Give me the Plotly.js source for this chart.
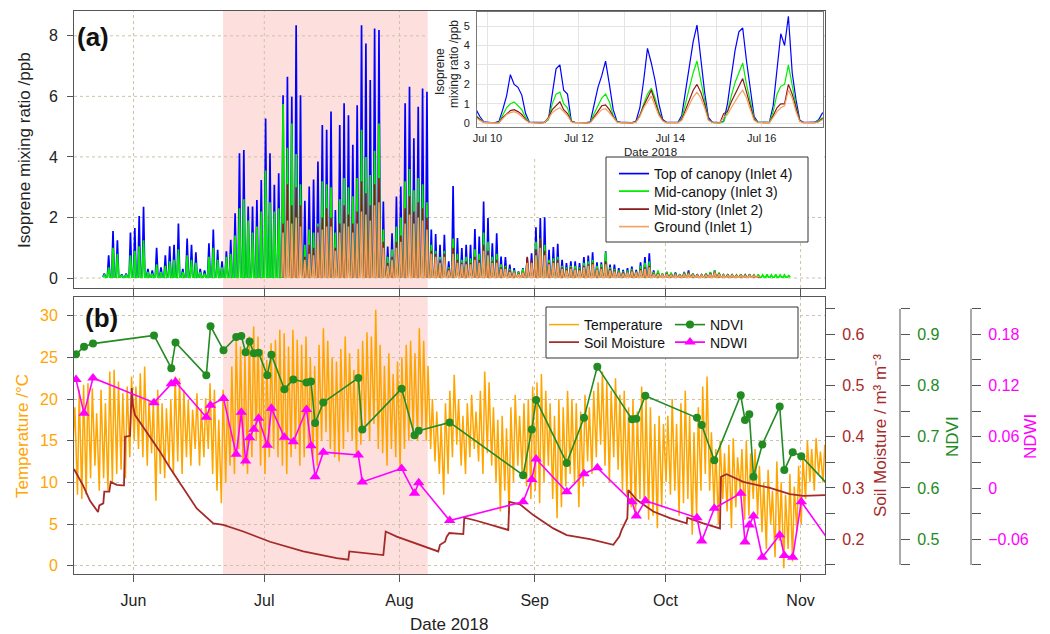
<!DOCTYPE html>
<html><head><meta charset="utf-8">
<script src="https://cdn.plot.ly/plotly-3.0.1.min.js"></script>
<style>html,body{margin:0;padding:0;background:#fff;} #chart{width:1050px;height:634px;}</style>
</head><body><div id="chart"></div>
<script>
// ---------------- DATA ----------------
// Day-of-year (2018, Jan 1 = 1) ranges
const X_RANGE_DOY = [138.35, 310.6];
const HEATWAVE_DOY = [172.53, 219.48];
const monthTicks = ['2018-06-01','2018-07-01','2018-08-01','2018-09-01','2018-10-01','2018-11-01'];
const monthLabels = ['Jun','Jul','Aug','Sep','Oct','Nov'];

// Panel (a): daily peak isoprene mixing ratio (ppb)
const NIGHT_LEVEL = 0.03;
const TOP_FIRST_DOY = 145;
const topCanopyPeak = [0.15,0.75,1.55,1.25,0.12,0.15,1.5,1.65,2.05,2.35,
 0.3,0.25,1.0,0.35,0.75,1.05,1.1,1.8,0.3,1.3,
 1.1,0.85,0.3,0.25,1.15,1.6,0.93,0.55,0.88,1.26,
 2.14,4.12,4.23,2.36,2.36,2.58,3.24,5.27,4.12,3.08,
 3.46,6.04,6.65,5.99,8.35,6.04,2.55,3.02,3.25,3.85,
 5.05,4.9,5.5,2.25,5.05,5.77,5.38,4.4,5.71,8.35,
 7.75,6.54,8.24,8.19,2.53,1.04,1.48,2.69,3.02,5.77,
 6.32,4.62,5.66,6.26,6.15,1.6,1.45,1.1,1.43,0.55,
 3.04,1.32,0.99,1.1,1.1,1.62,1.37,2.53,1.98,1.15,
 1.48,0.71,0.69,0.44,0.33,0.22,0.33,0.66,0.82,1.68,
 1.98,2.01,0.93,1.02,1.13,0.6,0.49,0.55,0.55,0.49,
 0.69,0.74,0.85,0.52,0.52,0.88,0.44,0.44,0.33,0.27,
 0.33,0.38,0.27,0.52,0.69,0.82,0.25,0.22,0.14,0.2,
 0.15,0.18,0.12,0.2,0.25,0.15,0.12,0.1,0.15,0.18,
 0.25,0.15,0.1,0.12,0.1,0.08,0.12,0.1,0.12,0.08,
 0.06];
const MID_FIRST_DOY = 145;
const midCanopyPeak = [0.1,0.35,1.0,0.8,0.08,0.1,0.75,0.9,1.05,1.25,
 0.2,0.15,0.45,0.2,0.4,0.55,0.6,0.95,0.2,0.75,
 0.6,0.5,0.2,0.15,0.7,1.0,0.6,0.35,0.7,0.8,
 1.4,2.3,2.6,1.9,1.5,1.7,2.2,3.55,2.5,2.2,
 2.3,5.75,4.3,5.1,4.1,3.1,1.1,1.6,1.5,1.8,
 3.2,3.1,3.0,1.5,2.6,3.3,3.0,2.7,3.3,4.9,
 4.0,3.4,4.2,5.1,1.6,0.7,0.95,1.7,2.0,3.2,
 3.6,2.9,3.3,3.1,2.5,1.1,0.9,0.7,0.9,0.35,
 1.3,0.8,0.6,0.7,0.65,0.95,0.8,1.5,1.2,0.7,
 0.8,0.45,0.4,0.3,0.25,0.2,0.3,0.45,0.5,1.2,
 1.3,1.1,0.6,0.65,0.7,0.4,0.35,0.4,0.4,0.35,
 0.5,0.55,0.6,0.4,0.45,0.85,0.35,0.3,0.25,0.22,
 0.25,0.3,0.22,0.4,0.5,0.55,0.2,0.25,0.15,0.2,
 0.18,0.15,0.12,0.18,0.2,0.15,0.1,0.12,0.15,0.2,
 0.25,0.18,0.12,0.1,0.12,0.1,0.12,0.1,0.12,0.1,
 0.12,0.1,0.12,0.1,0.12,0.1,0.1,0.08];
const LOW_FIRST_DOY = 186;
const midStoryPeak = [1.8,3.1,2.4,3.0,2.4,0.7,1.1,1.0,1.7,
 2.0,2.3,2.0,1.0,1.8,2.4,2.1,1.8,2.2,3.2,
 2.8,2.4,3.1,3.3,1.2,0.5,0.7,1.2,1.4,2.3,
 2.7,2.2,2.5,2.3,2.0,0.9,0.8,0.6,0.8,0.3,
 1.0,0.6,0.5,0.55,0.5,0.7,0.6,1.1,0.9,0.55,
 0.6,0.35,0.35,0.25,0.2,0.15,0.2,0.7,0.6,0.95,
 1.3,0.9,0.5,0.55,0.6,0.35,0.3,0.35,0.3,0.3,
 0.4,0.45,0.5,0.3,0.35,0.55,0.3,0.25,0.2,0.18,
 0.2,0.25,0.2,0.3,0.35,0.4,0.15,0.15,0.1,0.15,
 0.12,0.12,0.1,0.15,0.18,0.12,0.1,0.1,0.12,0.15,
 0.2,0.15,0.1,0.1,0.1,0.08,0.1,0.08,0.1,0.08,
 0.06];
const groundPeak = [1.5,1.9,1.8,2.0,1.7,0.6,0.8,0.75,1.5,
 1.6,1.7,1.7,0.9,1.5,1.8,1.7,1.5,1.8,2.2,
 2.1,1.9,2.4,2.5,1.0,0.4,0.6,1.0,1.2,1.8,
 2.1,1.8,2.0,1.9,1.6,0.8,0.7,0.5,0.7,0.25,
 0.8,0.5,0.45,0.45,0.45,0.6,0.5,0.9,0.75,0.5,
 0.5,0.3,0.3,0.2,0.18,0.13,0.18,0.5,0.5,0.75,
 1.0,0.75,0.45,0.5,0.5,0.3,0.25,0.3,0.28,0.25,
 0.35,0.4,0.45,0.28,0.3,0.45,0.25,0.22,0.18,0.15,
 0.18,0.22,0.18,0.25,0.3,0.35,0.13,0.13,0.1,0.13,
 0.1,0.1,0.09,0.13,0.15,0.1,0.09,0.09,0.1,0.13,
 0.18,0.13,0.09,0.09,0.09,0.07,0.09,0.07,0.09,0.07,
 0.06];

// Inset: 2-hourly readings from 2018-07-09 18:00
const INSET_START = '2018-07-09 18:00';
const INSET_STEP_HOURS = 2;
const INSET_RANGE = ['2018-07-09 18:29', '2018-07-17 08:10'];
const insetTickVals = ['2018-07-10','2018-07-12','2018-07-14','2018-07-16'];
const insetTickText = ['Jul 10','Jul 12','Jul 14','Jul 16'];
const insetMinorDays = ['2018-07-11','2018-07-13','2018-07-15','2018-07-17'];
const insetTop = [0.70,0.35,0.08,
 0.05,0.04,0.04,0.10,0.70,1.40,2.50,2.00,1.85,1.45,0.50,0.06,
 0.05,0.04,0.04,0.05,0.20,1.60,2.80,3.00,1.70,1.50,0.12,0.05,
 0.05,0.04,0.04,0.08,1.00,1.85,2.45,3.20,2.00,0.70,0.10,0.05,
 0.05,0.04,0.04,0.12,0.80,2.20,3.85,3.10,2.20,1.00,0.20,0.05,
 0.05,0.04,0.05,0.40,1.60,2.90,4.20,5.05,3.40,1.60,0.30,0.06,
 0.05,0.04,0.10,1.00,2.40,3.75,4.70,4.90,3.20,1.80,0.35,0.06,
 0.05,0.04,0.05,0.90,2.60,4.60,4.00,5.50,2.60,1.20,0.15,0.05,
 0.05,0.04,0.06,0.20,0.55];
const insetMid = [0.40,0.20,0.05,
 0.04,0.03,0.03,0.05,0.45,0.80,1.00,1.10,0.90,0.70,0.30,0.05,
 0.04,0.03,0.03,0.05,0.20,1.00,1.50,1.60,1.00,0.80,0.10,0.04,
 0.04,0.03,0.03,0.05,0.50,0.90,1.30,1.50,1.10,0.40,0.08,0.04,
 0.04,0.03,0.03,0.08,0.40,1.00,1.50,1.80,1.30,0.60,0.15,0.04,
 0.04,0.03,0.04,0.25,1.00,1.90,2.60,3.20,2.20,1.40,0.20,0.05,
 0.04,0.03,0.08,0.60,1.40,2.10,2.60,3.10,2.00,1.20,0.25,0.05,
 0.04,0.03,0.04,0.60,1.50,1.90,2.00,3.00,2.00,0.90,0.12,0.04,
 0.04,0.03,0.04,0.15,0.30];
const insetStory = [0.35,0.20,0.05,
 0.03,0.02,0.02,0.03,0.30,0.50,0.65,0.70,0.60,0.45,0.20,0.04,
 0.03,0.02,0.02,0.05,0.30,0.70,0.90,1.10,0.70,0.50,0.10,0.03,
 0.03,0.02,0.02,0.05,0.35,0.60,0.90,0.95,0.70,0.35,0.08,0.03,
 0.03,0.02,0.02,0.08,0.40,0.90,1.30,1.70,1.10,0.50,0.15,0.03,
 0.03,0.02,0.03,0.20,0.70,1.20,1.70,2.00,1.60,1.00,0.20,0.04,
 0.03,0.02,0.50,0.60,1.10,1.50,1.90,2.30,1.60,0.90,0.20,0.04,
 0.03,0.02,0.03,0.40,0.80,1.00,1.00,2.00,1.50,0.80,0.12,0.03,
 0.03,0.02,0.03,0.10,0.25];
const insetGround = [0.30,0.15,0.05,
 0.03,0.02,0.02,0.03,0.25,0.45,0.55,0.60,0.50,0.35,0.15,0.04,
 0.03,0.02,0.02,0.04,0.25,0.55,0.70,0.80,0.60,0.40,0.08,0.03,
 0.03,0.02,0.02,0.04,0.30,0.50,0.70,0.75,0.55,0.30,0.06,0.03,
 0.03,0.02,0.02,0.06,0.35,0.80,1.10,1.40,0.90,0.40,0.12,0.03,
 0.03,0.02,0.03,0.15,0.55,0.95,1.35,1.60,1.30,0.80,0.15,0.04,
 0.03,0.02,0.30,0.45,0.80,1.15,1.45,1.70,1.30,0.70,0.15,0.04,
 0.03,0.02,0.03,0.30,0.60,0.80,0.90,1.70,1.30,0.60,0.10,0.03,
 0.03,0.02,0.03,0.08,0.20];

// Panel (b): daily temperature minima / maxima (degC), from DOY 138
const TEMP_FIRST_DOY = 138;
const tempMin = [15,8.5,8.0,8.5,10.5,12,9,10.5,9,10,
 11,11.5,10.5,13,15,14,13,12,13.5,7.8,
 11,10.5,12,11,12.5,11,13,12,14,12,
 13,14,11,9,7.5,10,12,11,14,12,
 11,13,15,12,11,13,14,13,12,11,
 13,14,12,13,14.5,13,12,15,16,14,
 13,12.5,14,16,15,13,14.5,16,15,17,
 14,13.5,12,14,13,11.7,14,15,16,15,
 16.5,15,14,12.5,11,8.5,11,13,14.5,12,
 11,13,14,12.5,11,13.5,12,10,6.5,9,
 6.2,10,12,11,9.5,8,9,7.5,10,12,
 8,5.7,7,9.5,11,10,7,9.5,12.5,11,
 13,14.5,12,10,13,11.5,9,8.5,7,6,
 8,7.5,5.5,6,4.5,7,10,8.5,9,6,
 7.5,8,3.7,6,9,11,9,7,5,8,
 6.5,4.5,7,9,5.5,6,8,6,4,2,
 5,1,3,-0.3,2,0.5,4,5,8,10,
 9,11,10];
const tempMax = [19,21.1,21.7,21.9,21.3,18.3,21.1,19.5,23.3,23.5,
 22.1,20.7,21.5,22.7,21.5,23.1,23.9,19.9,19.9,21.1,
 19.5,18.9,19.9,22.7,22.5,21.1,19.9,18.7,20.7,18.9,
 20.1,21.9,21.1,17.5,21.1,19.9,23.9,27.1,26.3,25.5,
 27.5,28.7,27.5,25.9,24.7,26.7,27.1,28.3,27.9,26.3,
 28.3,27.1,26.5,27.5,25,24,26.5,28.5,27,25,
 24.5,26,27.5,25.5,23.5,26,27,28,27.5,30.7,
 26.5,24,25.5,23,24.5,25,26.5,27,25.5,28.5,
 27,24,20,18.5,17,19.5,21,22.9,20,18,
 19.5,20.5,18.5,21,23.3,22,19,17.5,18,16.5,
 19,20.5,18,19.5,20,21.5,22,23,21,19.5,
 18,20,19,21,20,19.5,18.5,20.5,19,21,
 22,23.3,22,21,22.5,20.5,21,19,20,18.5,
 21.5,20,19,17,18,17,18,20,17,19.5,
 21,18,16,19,21.5,22.7,16,14,15,13.5,
 14.5,15.3,13,14,15,13.5,14,12,10,11.5,
 9,12.5,10,8.5,11,9.5,12,13,15,14,
 15.3,13.7,14.5];

// Soil moisture (m3 m-3) vertices
const soilDoy = [138.35,140.42,142.02,143.86,144.16,145.07,145.30,146.45,146.77,148.15,149.36,149.82,150.05,151.2,151.59,151.89,152.34,155.03,158.08,160.37,163.42,166.5,170.3,172.6,177.18,183.3,190.94,198.6,201.27,201.5,209.3,209.84,212.37,221.9,222.3,223.45,223.84,224.43,227.64,227.87,230.72,237.96,238.19,240.65,243.7,248.29,251.36,256.7,262.05,263.42,263.97,265.26,265.49,267.42,271.22,275.05,278.88,279.01,282.68,286.51,286.74,288.05,291.86,297.98,302.56,305.62,310.6];
const soilMoisture = [0.337,0.305,0.275,0.253,0.266,0.270,0.293,0.293,0.312,0.306,0.305,0.305,0.40,0.402,0.495,0.46,0.4425,0.41,0.371,0.339,0.30,0.26,0.231,0.228,0.215,0.195,0.176,0.163,0.160,0.176,0.169,0.215,0.205,0.176,0.189,0.195,0.205,0.212,0.210,0.242,0.236,0.218,0.273,0.268,0.247,0.221,0.208,0.200,0.189,0.205,0.218,0.241,0.296,0.277,0.254,0.241,0.231,0.242,0.231,0.221,0.322,0.327,0.312,0.30,0.288,0.2845,0.286];

// NDVI / NDWI acquisitions
const viDoy = [138.81,140.65,142.71,156.70,160.67,161.63,168.70,169.66,172.64,175.56,176.72,177.71,178.63,179.59,180.67,182.69,183.63,186.61,188.65,191.68,192.71,193.65,195.53,203.56,204.48,213.49,216.45,217.41,224.52,241.36,243.35,244.34,251.36,255.33,258.38,266.34,267.32,269.39,281.24,282.32,285.21,291.27,292.25,293.24,294.2,296.22,300.21,301.27,303.19,305.16,312];
const ndvi = [0.861,0.876,0.882,0.898,0.834,0.884,0.820,0.916,0.869,0.895,0.897,0.865,0.886,0.863,0.864,0.820,0.860,0.793,0.812,0.806,0.808,0.727,0.767,0.815,0.714,0.794,0.703,0.712,0.728,0.625,0.714,0.772,0.649,0.737,0.837,0.734,0.735,0.780,0.737,0.723,0.654,0.781,0.733,0.744,0.622,0.685,0.759,0.635,0.670,0.662,0.600];
const ndwi = [0.127,0.0875,0.129,0.100,0.122,0.1245,0.083,0.097,0.105,0.0395,0.0887,0.0316,0.059,0.069,0.0816,0.050,0.0934,0.0594,0.0543,0.092,0.0496,0.0133,0.042,0.0387,0.0072,0.023,-0.006,0.0062,-0.038,-0.016,0.010,0.034,-0.0043,0.0168,0.0238,-0.016,-0.0328,-0.0148,-0.0348,-0.062,-0.0237,-0.006,-0.063,-0.0433,-0.0328,-0.081,-0.055,-0.079,-0.081,-0.016,-0.065];

// Right-axis tick positions (labelled / unlabelled)
const soilTicks = [0.2,0.3,0.4,0.5,0.6], soilMinor = [0.15,0.25,0.35,0.45,0.55,0.65];
const ndviTicks = [0.5,0.6,0.7,0.8,0.9], ndviMinor = [0.45,0.55,0.65,0.75,0.85,0.95];
const ndwiTicks = [-0.06,0,0.06,0.12,0.18], ndwiMinor = [-0.09,-0.03,0.03,0.09,0.15,0.21];

// ---------------- helpers ----------------
const YEAR_START = Date.UTC(2018, 0, 1);
const DAY_MS = 86400000;
function msDate(ms) { return new Date(ms).toISOString().slice(0, 19).replace('T', ' '); }
function doyDate(doy) { return msDate(YEAR_START + (doy - 1) * DAY_MS); }
function dailySeries(firstDoy, peaks) {
  const x = [], y = [];
  peaks.forEach((p, i) => {
    const d = firstDoy + i;
    x.push(doyDate(d), doyDate(d + 0.3), doyDate(d + 0.6));
    y.push(NIGHT_LEVEL, p, NIGHT_LEVEL);
  });
  return {x, y};
}
function tempSeries() {
  const x = [], y = [];
  tempMin.forEach((lo, i) => {
    const d = TEMP_FIRST_DOY + i;
    x.push(doyDate(d + 0.15), doyDate(d + 0.55));
    y.push(lo, tempMax[i]);
  });
  return {x, y};
}
const insetStartMs = Date.parse(INSET_START.replace(' ', 'T') + ':00Z');
const insetTimes = insetTop.map((_, i) => msDate(insetStartMs + i * INSET_STEP_HOURS * 3600000));

// ---------------- layout geometry (pixels) ----------------
const W = 1050, H = 634;
const fx = p => p / W, fy = p => 1 - p / H;
const FONT = 'Liberation Sans, Arial, Helvetica, sans-serif';
const GRID = '#cdc3a8';
const AXC = '#555555';
const C = {top:'#0000FF', mid:'#00EE00', story:'#8B1A1A', ground:'#F4A05F',
           temp:'#FFA500', soil:'#A52A2A', ndvi:'#228B22', ndwi:'#FF00FF', pink:'#FDE0DE'};

const xr = [doyDate(X_RANGE_DOY[0]), doyDate(X_RANGE_DOY[1])];

const sTop = dailySeries(TOP_FIRST_DOY, topCanopyPeak);
const sMid = dailySeries(MID_FIRST_DOY, midCanopyPeak);
const sStory = dailySeries(LOW_FIRST_DOY, midStoryPeak);
const sGround = dailySeries(LOW_FIRST_DOY, groundPeak);
const sTemp = tempSeries();

const traces = [
  {x:sTop.x, y:sTop.y, xaxis:'x', yaxis:'y', mode:'lines', name:'Top of canopy (Inlet 4)', line:{color:C.top, width:1.7}, legend:'legend'},
  {x:sMid.x, y:sMid.y, xaxis:'x', yaxis:'y', mode:'lines', name:'Mid-canopy (Inlet 3)', line:{color:C.mid, width:1.7}, legend:'legend4'},
  {x:sStory.x, y:sStory.y, xaxis:'x', yaxis:'y', mode:'lines', name:'Mid-story (Inlet 2)', line:{color:C.story, width:1.6}, legend:'legend5'},
  {x:sGround.x, y:sGround.y, xaxis:'x', yaxis:'y', mode:'lines', name:'Ground (Inlet 1)', line:{color:C.ground, width:1.6}, legend:'legend6'},

  {x:sTemp.x, y:sTemp.y, xaxis:'x2', yaxis:'y2', mode:'lines', name:'Temperature', line:{color:C.temp, width:1.5}, legend:'legend2'},
  {x:soilDoy.map(doyDate), y:soilMoisture, xaxis:'x2', yaxis:'y3', mode:'lines', name:'Soil Moisture', line:{color:C.soil, width:1.8}, legend:'legend7'},
  {x:viDoy.map(doyDate), y:ndvi, xaxis:'x2', yaxis:'y4', mode:'lines+markers', name:'NDVI', line:{color:C.ndvi, width:1.6}, marker:{color:C.ndvi, size:8, symbol:'circle'}, legend:'legend3'},
  {x:viDoy.map(doyDate), y:ndwi, xaxis:'x2', yaxis:'y5', mode:'lines+markers', name:'NDWI', line:{color:C.ndwi, width:1.6}, marker:{color:C.ndwi, size:10, symbol:'triangle-up'}, legend:'legend8'},

  {x:insetTimes, y:insetTop, xaxis:'x3', yaxis:'y6', mode:'lines', line:{color:C.top, width:1.2}, showlegend:false},
  {x:insetTimes, y:insetMid, xaxis:'x3', yaxis:'y6', mode:'lines', line:{color:C.mid, width:1.2}, showlegend:false},
  {x:insetTimes, y:insetStory, xaxis:'x3', yaxis:'y6', mode:'lines', line:{color:C.story, width:1.2}, showlegend:false},
  {x:insetTimes, y:insetGround, xaxis:'x3', yaxis:'y6', mode:'lines', line:{color:C.ground, width:1.2}, showlegend:false}
];

const tickFont = {family:FONT, size:16, color:'#222'};
const shapes = [];
// heat-wave shading
shapes.push({type:'rect', layer:'below', xref:'x', yref:'paper', x0:doyDate(HEATWAVE_DOY[0]), x1:doyDate(HEATWAVE_DOY[1]), y0:fy(288), y1:fy(11), fillcolor:C.pink, line:{width:0}});
shapes.push({type:'rect', layer:'below', xref:'x2', yref:'paper', x0:doyDate(HEATWAVE_DOY[0]), x1:doyDate(HEATWAVE_DOY[1]), y0:fy(574), y1:fy(297), fillcolor:C.pink, line:{width:0}});
// panel (a) grid
[0,2,4,6,8].forEach(v => shapes.push({type:'line', layer:'below', xref:'paper', yref:'y', x0:fx(74), x1:fx(825), y0:v, y1:v, line:{color:GRID, width:1, dash:'dot'}}));
monthTicks.forEach(m => shapes.push({type:'line', layer:'below', xref:'x', yref:'paper', x0:m, x1:m, y0:fy(288), y1:fy(11), line:{color:GRID, width:1, dash:'dot'}}));
// inset white background
shapes.push({type:'rect', layer:'below', xref:'paper', yref:'paper', x0:fx(428), x1:fx(824), y0:fy(158), y1:fy(11.5), fillcolor:'#ffffff', line:{width:0}});
// free right axis lines
shapes.push({type:'line', layer:'below', xref:'paper', yref:'y4', x0:fx(900), x1:fx(900), y0:0.45, y1:0.95, line:{color:AXC, width:1}});
shapes.push({type:'line', layer:'below', xref:'paper', yref:'y5', x0:fx(971), x1:fx(971), y0:-0.09, y1:0.21, line:{color:AXC, width:1}});
// legend boxes
shapes.push({type:'rect', layer:'above', xref:'paper', yref:'paper', x0:fx(606), x1:fx(808), y0:fy(242), y1:fy(157), fillcolor:'#ffffff', line:{color:'#333', width:1}});
shapes.push({type:'rect', layer:'above', xref:'paper', yref:'paper', x0:fx(546), x1:fx(798), y0:fy(358), y1:fy(307), fillcolor:'#ffffff', line:{color:'#333', width:1}});

const ann = (text, xpx, ypx, opts) => Object.assign({text, x:fx(xpx), y:fy(ypx), xref:'paper', yref:'paper', showarrow:false, xanchor:'center', yanchor:'middle', font:{family:FONT, size:17, color:'#222'}}, opts || {});
const annotations = [
  ann('(a)', 93, 37, {font:{family:FONT, size:26, color:'#111', weight:'bold'}}),
  ann('(b)', 101, 318, {font:{family:FONT, size:26, color:'#111', weight:'bold'}}),
  ann('Isoprene mixing ratio /ppb', 25, 150, {textangle:-90}),
  ann('Temperature /°C', 22, 436, {textangle:-90, font:{family:FONT, size:17, color:C.temp}}),
  ann('Soil Moisture / m³ m⁻³', 880, 436, {textangle:-90, font:{family:FONT, size:17, color:C.soil}}),
  ann('NDVI', 952, 437, {textangle:-90, font:{family:FONT, size:17, color:C.ndvi}}),
  ann('NDWI', 1030, 437, {textangle:-90, font:{family:FONT, size:17, color:C.ndwi}}),
  ann('Date 2018', 449, 624),
  ann('Isoprene', 440, 72, {textangle:-90, font:{family:FONT, size:12, color:'#222'}}),
  ann('mixing ratio /ppb', 454, 64, {textangle:-90, font:{family:FONT, size:12, color:'#222'}}),
  ann('Date 2018', 650, 151.5, {font:{family:FONT, size:11.5, color:'#222'}})
];

const legendBase = (xpx, topPx) => ({x:fx(xpx), y:fy(topPx), xanchor:'left', yanchor:'top', bgcolor:'rgba(0,0,0,0)', borderwidth:0, font:{family:FONT, size:14, color:'#111'}, tracegroupgap:0});
const rightAxis = (range, ticks, minor, color, extra) => Object.assign({overlaying:'y2', side:'right', range, tickvals:ticks,
  ticks:'outside', ticklen:9, tickcolor:AXC, tickfont:{family:FONT, size:16, color}, ticklabelstandoff:4,
  minor:{tickvals:minor, ticks:'outside', ticklen:9, tickcolor:AXC, showgrid:false},
  showgrid:false, showline:false, zeroline:false}, extra);

const layout = {
  width:W, height:H, margin:{l:0, r:0, t:0, b:0},
  paper_bgcolor:'#ffffff', plot_bgcolor:'#ffffff',
  font:{family:FONT, size:14, color:'#222'},
  showlegend:true,
  xaxis:{type:'date', domain:[fx(74), fx(825)], anchor:'y', range:xr, tickvals:monthTicks, showticklabels:false,
    ticks:'outside', ticklen:8, tickcolor:AXC, showgrid:false, showline:true, mirror:true, linecolor:AXC, linewidth:1, zeroline:false},
  yaxis:{domain:[fy(288), fy(11)], anchor:'x', range:[-0.33, 8.82], tickvals:[0,2,4,6,8], ticks:'outside', ticklen:6, tickcolor:AXC,
    tickfont:tickFont, ticklabelstandoff:6, showgrid:false, showline:true, mirror:true, linecolor:AXC, zeroline:false},
  xaxis2:{type:'date', domain:[fx(74), fx(825)], anchor:'y2', range:xr, tickvals:monthTicks, ticktext:monthLabels,
    ticks:'outside', ticklen:7, tickcolor:AXC, tickfont:tickFont, ticklabelstandoff:5,
    showgrid:true, gridcolor:GRID, griddash:'dot', gridwidth:1, showline:true, mirror:true, linecolor:AXC, zeroline:false},
  yaxis2:{domain:[fy(574), fy(297)], anchor:'x2', range:[-1.0, 32.24], tickvals:[0,5,10,15,20,25,30], ticks:'outside', ticklen:6, tickcolor:AXC,
    tickfont:{family:FONT, size:16, color:C.temp}, ticklabelstandoff:6,
    showgrid:true, gridcolor:GRID, griddash:'dot', gridwidth:1, showline:true, mirror:true, linecolor:AXC, zeroline:false},
  yaxis3:rightAxis([0.132, 0.673], soilTicks, soilMinor, C.soil, {anchor:'x2'}),
  yaxis4:rightAxis([0.432, 0.973], ndviTicks, ndviMinor, C.ndvi, {anchor:'free', position:fx(900)}),
  yaxis5:rightAxis([-0.1006, 0.2237], ndwiTicks, ndwiMinor, C.ndwi, {anchor:'free', position:fx(971)}),
  xaxis3:{type:'date', domain:[fx(477), fx(823)], anchor:'y6', range:INSET_RANGE, tickvals:insetTickVals, ticktext:insetTickText,
    ticks:'', tickfont:{family:FONT, size:11, color:'#222'}, ticklabelstandoff:1,
    minor:{tickvals:insetMinorDays, showgrid:true, gridcolor:'#e4e4e4', ticks:''},
    showgrid:true, gridcolor:'#e4e4e4', showline:true, mirror:true, linecolor:'#777', zeroline:false},
  yaxis6:{domain:[fy(127), fy(12)], anchor:'x3', range:[-0.19, 5.72], tickvals:[0,1,2,3,4,5],
    ticks:'', tickfont:{family:FONT, size:11, color:'#222'}, ticklabelstandoff:4,
    showgrid:true, gridcolor:'#e4e4e4', showline:true, mirror:true, linecolor:'#777', zeroline:false},
  legend:legendBase(614, 158),
  legend4:legendBase(614, 175.5),
  legend5:legendBase(614, 193.5),
  legend6:legendBase(614, 211),
  legend2:legendBase(544, 309),
  legend7:legendBase(544, 326.5),
  legend3:legendBase(670, 309),
  legend8:legendBase(670, 326.5),
  shapes, annotations
};

Plotly.newPlot('chart', traces, layout, {staticPlot:true, displayModeBar:false});
</script></body></html>
